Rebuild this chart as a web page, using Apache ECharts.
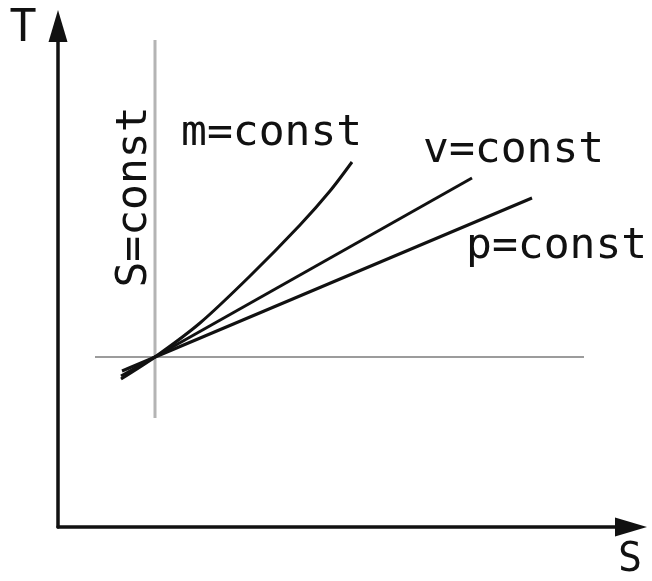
<!DOCTYPE html>
<html>
<head>
<meta charset="utf-8">
<script src="https://cdn.jsdelivr.net/npm/echarts@6/dist/echarts.min.js"></script>
<style>
html,body{margin:0;padding:0;background:#fff;}
#chart{width:652px;height:581px;}
</style>
</head>
<body>
<div id="chart"></div>
<script>
// Axis ranges (S horizontal, T vertical), arbitrary units
const sRange = [0, 573];
const tRange = [0, 501];
const axisNames = ['S', 'T'];

// Reference lines through the state point
const sConstLine = [[97, 109], [97, 487]];   // S = const (vertical)
const tConstLine = [[37, 170], [526, 170]];  // T = const (horizontal)

// Process curves through the state point
const mConst = [[63, 148], [97, 170], [142, 204], [192, 251], [242, 302], [272, 336], [294, 365]];
const vConst = [[63, 151], [414, 349]];
const pConst = [[64, 156], [474, 329]];

const labels = ['m=const', 'v=const', 'p=const', 'S=const'];

const chart = echarts.init(document.getElementById('chart'), null, {renderer: 'canvas'});
const FONT = '"DejaVu Sans Mono", monospace';
const INK = '#111';

function axis(range) {
  return {
    type: 'value', min: range[0], max: range[1],
    axisLine: {show: true, onZero: false, symbol: ['none', 'triangle'], symbolSize: [19, 32],
      lineStyle: {color: INK, width: 3.5}},
    axisTick: {show: false}, axisLabel: {show: false}, splitLine: {show: false}
  };
}
function line(data, color, width, smooth) {
  return {type: 'line', data: data, symbol: 'none', smooth: smooth || false, silent: true,
    lineStyle: {color: color, width: width}};
}
function txt(str, x, y, size, align, rot) {
  return {type: 'text', x: x, y: y, rotation: rot || 0, silent: true,
    style: {text: str, font: size + 'px ' + FONT, fill: INK, stroke: '#fff', lineWidth: 1.3,
      align: align, verticalAlign: 'middle'}};
}

chart.setOption({
  animation: false,
  backgroundColor: '#fff',
  grid: {left: 58, right: 21, top: 26, bottom: 54},
  xAxis: axis(sRange),
  yAxis: axis(tRange),
  series: [
    line(sConstLine, '#b4b4b4', 3),
    line(tConstLine, '#9c9c9c', 2),
    line(mConst, INK, 3, 0.3),
    line(vConst, INK, 3),
    line(pConst, INK, 3)
  ],
  graphic: [
    txt(axisNames[1], 23, 29, 45, 'center'),
    txt(axisNames[0], 630, 561, 40, 'center'),
    txt(labels[0], 181, 134, 43, 'left'),
    txt(labels[1], 423, 151, 43, 'left'),
    txt(labels[2], 466, 247, 43, 'left'),
    txt(labels[3], 135, 197, 43, 'center', Math.PI / 2)
  ]
});
</script>
</body>
</html>
